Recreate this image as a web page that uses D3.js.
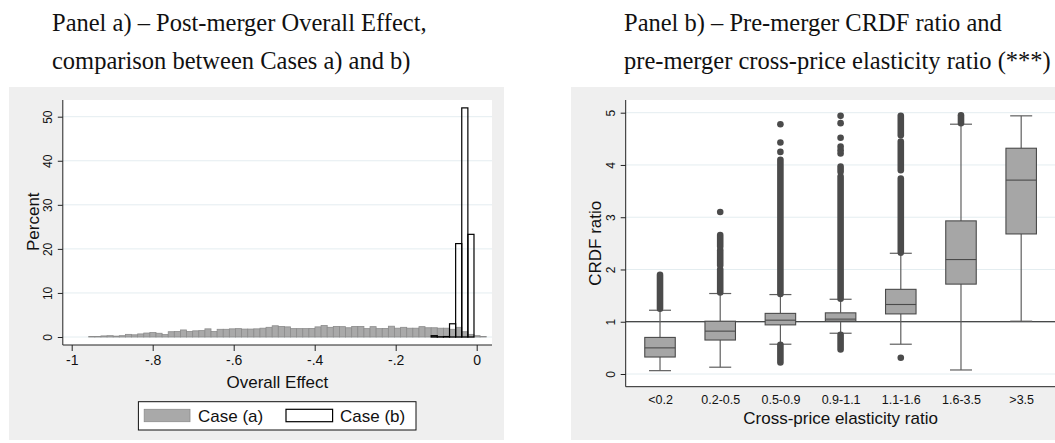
<!DOCTYPE html>
<html><head><meta charset="utf-8">
<script src="https://cdn.jsdelivr.net/npm/d3@7"></script>
<style>body{margin:0;background:#fff} svg{display:block}</style>
</head><body><svg id="c" width="1055" height="443"></svg>
<script>
// ---------------- Panel a) data ----------------
const histBinStart = -0.958;
const histBinWidth = 0.0151;
const caseA = [
  0.1,0.1,0.25,0.3,0.2,0.3,0.6,0.5,0.7,0.9,1.0,0.85,0.55,1.2,1.25,1.6,
  1.25,1.4,1.45,1.85,1.25,1.75,1.75,1.85,1.9,1.8,1.8,1.85,2.0,2.2,2.55,2.4,
  2.3,1.9,1.9,1.9,1.95,2.3,2.6,2.2,2.4,2.35,2.1,2.4,2.4,1.9,2.35,1.9,1.95,
  2.45,2.0,2.2,2.0,2.0,2.35,2.1,2.1,2.0,2.0,1.75,
  2.2,1.2,0.6,0.3,0.1
];
const caseB = [
  0,0,0,0,0,0,0,0,0,0,0,0,0,0,0,0,
  0,0,0,0,0,0,0,0,0,0,0,0,0,0,0,0,
  0,0,0,0,0,0,0,0,0,0,0,0,0,0,0,0,0,
  0,0,0,0,0,0,0,0.3,0.05,0.1,
  3.0,21.2,52.0,23.3,0
];
const xTicksA = [-1,-0.8,-0.6,-0.4,-0.2,0];
const xTickLabelsA = ["-1","-.8","-.6","-.4","-.2","0"];
const yTicksA = [0,10,20,30,40,50];
const yTickLabelsA = ["0","10","20","30","40","50"];
const legendLabels = ["Case (a)","Case (b)"];

// ---------------- Panel b) data ----------------
const categories = ["<0.2","0.2-0.5","0.5-0.9","0.9-1.1","1.1-1.6","1.6-3.5",">3.5"];
const q1 =          [0.325,0.65,0.94,1.01,1.15,1.72,2.68];
const median =      [0.50, 0.82,1.03,1.05,1.33,2.19,3.71];
const q3 =          [0.70, 1.01,1.16,1.17,1.62,2.93,4.32];
const whiskerLow =  [0.064,0.13,0.57,0.78,0.57,0.077,1.01];
const whiskerHigh = [1.22, 1.54,1.52,1.43,2.31,4.78,4.94];
// dense columns of outliers (drawn as stacked dots) : [from, to]
const outlierRuns = [
  [[1.25,1.90]],
  [[1.56,2.00],[2.08,2.37],[2.44,2.66]],
  [[1.53,4.10],[0.22,0.56]],
  [[1.44,3.78],[3.87,3.97],[0.47,0.75]],
  [[2.32,3.74],[3.90,4.45],[4.57,4.94]],
  [[4.80,4.95]],
  []
];
const outlierPoints = [
  [],
  [3.10],
  [4.25,4.43,4.78],
  [4.22,4.28,4.35,4.52,4.80,4.94],
  [0.31],
  [],
  []
];
const yTicksB = [0,1,2,3,4,5];
const yTickLabelsB = ["0","1","2","3","4","5"];
const refLineB = 1;

const titleA = ["Panel a) \u2013 Post-merger Overall Effect,", "comparison between Cases a) and b)"];
const titleB = ["Panel b) \u2013 Pre-merger CRDF ratio and", "pre-merger cross-price elasticity ratio (***)"];

// ---------------- drawing ----------------
const svg = d3.select("#c");
const SANS = "'Liberation Sans', Arial, sans-serif";
const SERIF = "'Liberation Serif', 'Times New Roman', serif";
const BG = "#efefef", GRID = "#e4edf0", AXIS = "#222";

function drawTitle(x, lines) {
  const t = svg.append("text").attr("font-family", SERIF).attr("font-size", 24.5).attr("fill", "#111");
  lines.forEach((s, i) => t.append("tspan").attr("x", x).attr("y", 31 + i * 38).text(s));
}
drawTitle(52, titleA);
drawTitle(624, titleB);

// ---------- Panel a ----------
svg.append("rect").attr("x", 9).attr("y", 87).attr("width", 495).attr("height", 353).attr("fill", BG);
const pa = {l: 62.8, r: 492, t: 100, b: 345};
svg.append("rect").attr("x", pa.l).attr("y", pa.t).attr("width", pa.r - pa.l).attr("height", pa.b - pa.t).attr("fill", "#fff");
const xA = d3.scaleLinear().domain([-1, 0]).range([71.7, 476.7]);
const yA = d3.scaleLinear().domain([0, 50]).range([337, 116.7]);

svg.append("g").selectAll("line").data(yTicksA).join("line")
  .attr("x1", pa.l).attr("x2", pa.r).attr("y1", d => yA(d)).attr("y2", d => yA(d))
  .attr("stroke", GRID).attr("stroke-width", 1);

const bw = xA(histBinWidth) - xA(0);
svg.append("g").selectAll("rect").data(caseA).join("rect")
  .attr("x", (d, i) => xA(histBinStart + i * histBinWidth))
  .attr("width", bw)
  .attr("y", d => yA(d)).attr("height", d => yA(0) - yA(d))
  .attr("fill", "#a9a9a9").attr("stroke", "#8c8c8c").attr("stroke-width", 0.8);

svg.append("g").selectAll("rect").data(caseB.map((v, i) => ({v, i})).filter(d => d.v > 0)).join("rect")
  .attr("x", d => xA(histBinStart + d.i * histBinWidth))
  .attr("width", bw)
  .attr("y", d => yA(d.v)).attr("height", d => yA(0) - yA(d.v))
  .attr("fill", "none").attr("stroke", "#000").attr("stroke-width", 1.2);

// axes a
const gxA = svg.append("g").attr("transform", `translate(0,${pa.b})`)
  .call(d3.axisBottom(xA).tickValues(xTicksA).tickFormat((d, i) => xTickLabelsA[i]).tickSize(6).tickPadding(4));
gxA.select(".domain").remove();
gxA.selectAll("line").attr("stroke", AXIS);
gxA.selectAll("text").attr("font-family", SANS).attr("font-size", 14).attr("fill", "#111");

const gyA = svg.append("g").attr("transform", `translate(${pa.l},0)`)
  .call(d3.axisLeft(yA).tickValues(yTicksA).tickFormat((d, i) => yTickLabelsA[i]).tickSize(5));
gyA.select(".domain").remove();
gyA.selectAll("line").attr("stroke", AXIS);
gyA.selectAll("text").attr("font-family", SANS).attr("font-size", 12).attr("fill", "#111")
  .attr("transform", "rotate(-90)").attr("text-anchor", "middle").attr("x", 0).attr("y", -11).attr("dy", null);

svg.append("line").attr("x1", pa.l).attr("x2", pa.l).attr("y1", pa.t).attr("y2", pa.b).attr("stroke", AXIS);
svg.append("line").attr("x1", pa.l).attr("x2", pa.r).attr("y1", pa.b).attr("y2", pa.b).attr("stroke", AXIS);

svg.append("text").attr("x", (pa.l + pa.r) / 2).attr("y", 387.5).attr("text-anchor", "middle")
  .attr("font-family", SANS).attr("font-size", 17).attr("fill", "#111").text("Overall Effect");
svg.append("text").attr("transform", `translate(38.5,221.7) rotate(-90)`).attr("text-anchor", "middle")
  .attr("font-family", SANS).attr("font-size", 17).attr("fill", "#111").text("Percent");

// legend a
const lg = svg.append("g");
lg.append("rect").attr("x", 138.4).attr("y", 401.7).attr("width", 277.6).attr("height", 28.3)
  .attr("fill", "#fff").attr("stroke", "#111").attr("stroke-width", 1);
lg.append("rect").attr("x", 144.2).attr("y", 409.3).attr("width", 45.8).attr("height", 12.4)
  .attr("fill", "#a9a9a9").attr("stroke", "#8c8c8c").attr("stroke-width", 0.8);
lg.append("rect").attr("x", 286).attr("y", 409.3).attr("width", 46.6).attr("height", 12.4)
  .attr("fill", "#fff").attr("stroke", "#000").attr("stroke-width", 1.2);
lg.append("text").attr("x", 198).attr("y", 421.5).attr("font-family", SANS).attr("font-size", 17).attr("fill", "#111").text(legendLabels[0]);
lg.append("text").attr("x", 340).attr("y", 421.5).attr("font-family", SANS).attr("font-size", 17).attr("fill", "#111").text(legendLabels[1]);

// ---------- Panel b ----------
svg.append("rect").attr("x", 571).attr("y", 87).attr("width", 490).attr("height", 353).attr("fill", BG);
const pb = {l: 625.7, r: 1055.5, t: 100, b: 386.7};
svg.append("rect").attr("x", pb.l).attr("y", pb.t).attr("width", pb.r - pb.l).attr("height", pb.b - pb.t).attr("fill", "#fff");
const xB = d3.scalePoint().domain(categories).range([pb.l, pb.r]).padding(0.57);
const yB = d3.scaleLinear().domain([0, 5]).range([374, 112.7]);
const boxW = 30.5, capW = 22;

svg.append("g").selectAll("line").data(yTicksB).join("line")
  .attr("x1", pb.l).attr("x2", pb.r).attr("y1", d => yB(d)).attr("y2", d => yB(d))
  .attr("stroke", GRID).attr("stroke-width", 1);
svg.append("line").attr("x1", pb.l).attr("x2", pb.r).attr("y1", yB(refLineB)).attr("y2", yB(refLineB))
  .attr("stroke", "#111").attr("stroke-width", 1.2);

const boxes = svg.append("g").selectAll("g").data(categories).join("g");
const WH = "#5f5f5f";
boxes.append("line").attr("x1", d => xB(d)).attr("x2", d => xB(d))
  .attr("y1", (d, i) => yB(q3[i])).attr("y2", (d, i) => yB(whiskerHigh[i])).attr("stroke", WH).attr("stroke-width", 1.2);
boxes.append("line").attr("x1", d => xB(d)).attr("x2", d => xB(d))
  .attr("y1", (d, i) => yB(q1[i])).attr("y2", (d, i) => yB(whiskerLow[i])).attr("stroke", WH).attr("stroke-width", 1.2);
boxes.append("line").attr("x1", d => xB(d) - capW / 2).attr("x2", d => xB(d) + capW / 2)
  .attr("y1", (d, i) => yB(whiskerHigh[i])).attr("y2", (d, i) => yB(whiskerHigh[i])).attr("stroke", WH).attr("stroke-width", 1.2);
boxes.append("line").attr("x1", d => xB(d) - capW / 2).attr("x2", d => xB(d) + capW / 2)
  .attr("y1", (d, i) => yB(whiskerLow[i])).attr("y2", (d, i) => yB(whiskerLow[i])).attr("stroke", WH).attr("stroke-width", 1.2);
boxes.append("rect").attr("x", d => xB(d) - boxW / 2).attr("width", boxW)
  .attr("y", (d, i) => yB(q3[i])).attr("height", (d, i) => yB(q1[i]) - yB(q3[i]))
  .attr("fill", "#a6a6a6").attr("stroke", "#4a4a4a").attr("stroke-width", 1.1);
boxes.append("line").attr("x1", d => xB(d) - boxW / 2).attr("x2", d => xB(d) + boxW / 2)
  .attr("y1", (d, i) => yB(median[i])).attr("y2", (d, i) => yB(median[i])).attr("stroke", "#4a4a4a").attr("stroke-width", 1.1);

const DOT = "#4b4b4b", R = 3.3;
boxes.each(function (d, i) {
  const g = d3.select(this);
  g.selectAll("line.run").data(outlierRuns[i]).join("line").attr("class", "run")
    .attr("x1", xB(d)).attr("x2", xB(d)).attr("y1", r => yB(r[0])).attr("y2", r => yB(r[1]))
    .attr("stroke", DOT).attr("stroke-width", 2 * R).attr("stroke-linecap", "round");
  g.selectAll("circle").data(outlierPoints[i]).join("circle")
    .attr("cx", xB(d)).attr("cy", v => yB(v)).attr("r", R).attr("fill", DOT);
});

// axes b
const gyB = svg.append("g").attr("transform", `translate(${pb.l},0)`)
  .call(d3.axisLeft(yB).tickValues(yTicksB).tickFormat((d, i) => yTickLabelsB[i]).tickSize(5));
gyB.select(".domain").remove();
gyB.selectAll("line").attr("stroke", AXIS);
gyB.selectAll("text").attr("font-family", SANS).attr("font-size", 12).attr("fill", "#111")
  .attr("transform", "rotate(-90)").attr("text-anchor", "middle").attr("x", 0).attr("y", -11).attr("dy", null);

const gxB = svg.append("g").attr("transform", `translate(0,${pb.b})`)
  .call(d3.axisBottom(xB).tickSize(0).tickPadding(8));
gxB.select(".domain").remove();
gxB.selectAll("text").attr("font-family", SANS).attr("font-size", 12.5).attr("fill", "#111");

svg.append("line").attr("x1", pb.l).attr("x2", pb.l).attr("y1", pb.t).attr("y2", pb.b).attr("stroke", AXIS);
svg.append("line").attr("x1", pb.l).attr("x2", pb.r).attr("y1", pb.b).attr("y2", pb.b).attr("stroke", AXIS);

svg.append("text").attr("x", (pb.l + pb.r) / 2).attr("y", 423.5).attr("text-anchor", "middle")
  .attr("font-family", SANS).attr("font-size", 17).attr("fill", "#111").text("Cross-price elasticity ratio");
svg.append("text").attr("transform", `translate(601,243.3) rotate(-90)`).attr("text-anchor", "middle")
  .attr("font-family", SANS).attr("font-size", 17).attr("fill", "#111").text("CRDF ratio");
</script></body></html>
